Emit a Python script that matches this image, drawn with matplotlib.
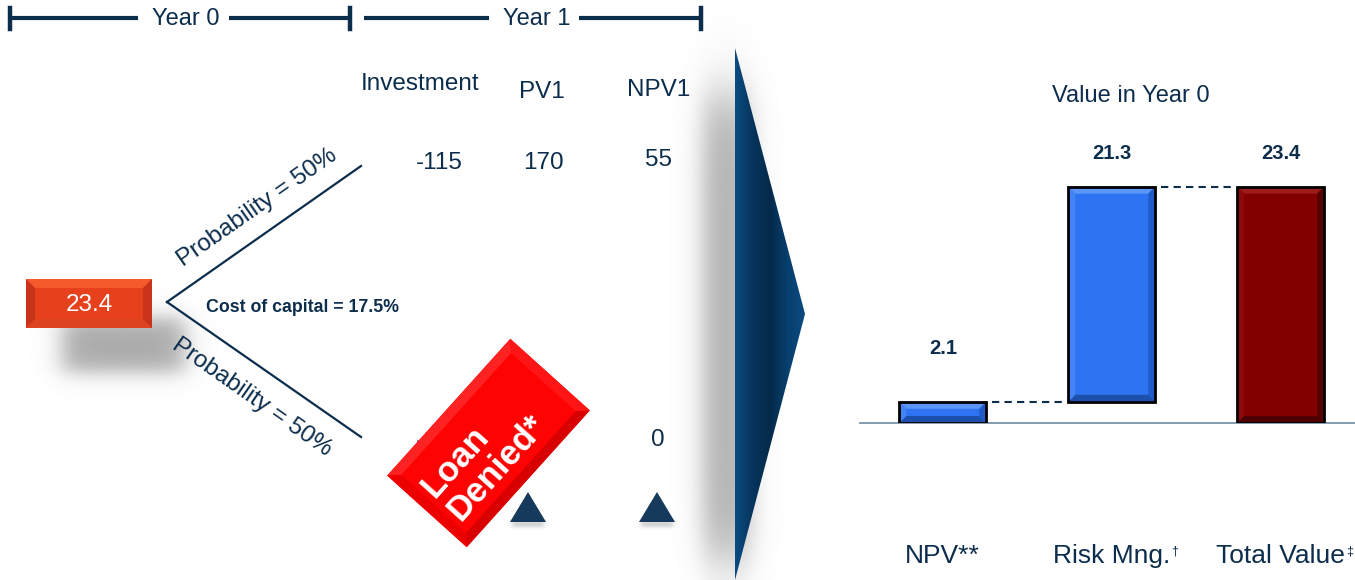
import numpy as np
import matplotlib
matplotlib.use("Agg")
import matplotlib.pyplot as plt
from matplotlib.patches import Polygon
from matplotlib.colors import LinearSegmentedColormap

plt.rcParams['font.family'] = ['Liberation Sans', 'DejaVu Sans']

# decision tree numbers
root_value = 23.4
cost_of_capital = 17.5
probability = 50
tree_cols = ['Investment', 'PV1', 'NPV1']
up_branch = [-115, 170, 55]
down_investment = -115
down_npv1 = 0
years = ['Year 0', 'Year 1']

# value bridge
categories = ['NPV**', 'Risk Mng.', 'Total Value']
footmarks = ['', '\u2020', '\u2021']
values = [2.1, 21.3, 23.4]
bottoms = [0, values[0], 0]
bar_colors = ['#2e74f2', '#2e74f2', '#820000']

NAVY = '#0c2d4c'

fig = plt.figure(figsize=(13.55, 5.8), dpi=100)
ov = fig.add_axes([0, 0, 1, 1])
ov.axis('off')


def soft_rect(x0, x1, y0, y1, sx, sy, amax, z, gray=0.45):
    px, py = 3 * sx, 3 * sy
    xs = np.linspace(x0 - px, x1 + px, 240)
    ys = np.linspace(y0 - py, y1 + py, 240)
    fx = 0.5 * (np.tanh((xs - x0) / sx) - np.tanh((xs - x1) / sx))
    fy = 0.5 * (np.tanh((ys - y0) / sy) - np.tanh((ys - y1) / sy))
    img = np.zeros((len(ys), len(xs), 4))
    img[..., :3] = gray
    img[..., 3] = amax * np.outer(fy, fx)
    ov.imshow(img, extent=(x0 - px, x1 + px, y1 + py, y0 - py), origin='upper',
              aspect='auto', interpolation='bilinear', zorder=z)


def bevel_box(cx, cy, w, h, ang, face, top, bottom, left, right, b, z):
    a = np.deg2rad(ang)
    u = np.array([np.cos(a), -np.sin(a)])
    v = np.array([np.sin(a), np.cos(a)])
    c = np.array([cx, cy])

    def corners(ww, hh):
        return [c - u * ww / 2 - v * hh / 2, c + u * ww / 2 - v * hh / 2,
                c + u * ww / 2 + v * hh / 2, c - u * ww / 2 + v * hh / 2]
    tl, tr, br, bl = corners(w, h)
    itl, itr, ibr, ibl = corners(w - 2 * b, h - 2 * b)
    ov.add_patch(Polygon([tl, tr, br, bl], color=face, lw=0, zorder=z))
    ov.add_patch(Polygon([tl, tr, itr, itl], color=top, lw=0, zorder=z + 0.1))
    ov.add_patch(Polygon([bl, br, ibr, ibl], color=bottom, lw=0, zorder=z + 0.1))
    ov.add_patch(Polygon([tl, bl, ibl, itl], color=left, lw=0, zorder=z + 0.1))
    ov.add_patch(Polygon([tr, br, ibr, itr], color=right, lw=0, zorder=z + 0.1))


# timeline
for x0, x1, gap0, gap1 in [(10, 350, 138, 229), (364, 701, 489, 579)]:
    ov.plot([x0, gap0], [18, 18], color=NAVY, lw=3, solid_capstyle='butt')
    ov.plot([gap1, x1], [18, 18], color=NAVY, lw=3, solid_capstyle='butt')
ov.plot([10, 10], [8, 29], color=NAVY, lw=3.2)
ov.plot([350, 350], [8, 29], color=NAVY, lw=3.2)
ov.plot([701, 701], [8, 29], color=NAVY, lw=3.2)
ov.text(186, 19, years[0], ha='center', va='center', fontsize=17, color=NAVY)
ov.text(537, 19, years[1], ha='center', va='center', fontsize=17, color=NAVY)

# column headers and upper branch values
for name, xc, yc in zip(tree_cols, [420, 542, 659], [84, 92, 90]):
    ov.text(xc, yc, name, ha='center', va='center', fontsize=17.5, color=NAVY)
for val, xc, yc in zip(up_branch, [439, 543, 658], [163, 163, 160]):
    ov.text(xc, yc, f'{val}', ha='center', va='center', fontsize=17.5, color=NAVY)
ov.text(439, 441, f'{down_investment}', ha='center', va='center', fontsize=17.5,
        color=NAVY, zorder=2)
ov.text(658, 440, f'{down_npv1}', ha='center', va='center', fontsize=17.5, color=NAVY)

# branches
ov.plot([167, 361], [302, 166], color=NAVY, lw=1.6)
ov.plot([167, 361], [302, 437], color=NAVY, lw=1.6)
ov.text(257, 208, f'Probability = {probability}%', rotation=35, rotation_mode='anchor',
        ha='center', va='center', fontsize=17.5, color=NAVY)
ov.text(252, 397, f'Probability = {probability}%', rotation=-35, rotation_mode='anchor',
        ha='center', va='center', fontsize=17.5, color=NAVY)
ov.text(303, 307, f'Cost of capital = {cost_of_capital}%', ha='center', va='center',
        fontsize=12.8, fontweight='bold', color=NAVY)

# root node
soft_rect(62, 185, 318, 372, 14, 12, 0.6, z=1)
bevel_box(89, 303.5, 126, 49, 0, '#e6401d', '#f45a2c', '#dc4420', '#c8341a',
          '#c8341a', 9, z=3)
ov.text(89, 305, f'{root_value}', ha='center', va='center', fontsize=17.5,
        color='white', zorder=4)

# loan denied stamp
soft_rect(440, 560, 470, 480, 6, 4, 0.0, z=1)
bevel_box(488.5, 443, 184, 107, 48, '#fd0303', '#ff2222', '#d80000', '#ec0000',
          '#ff1515', 10, z=5)
ov.text(484, 456, 'Loan\nDenied*', rotation=48, rotation_mode='anchor',
        ha='center', va='center', multialignment='left', linespacing=1.05,
        fontsize=25, fontweight='bold', color='white', zorder=6)

# small markers under the lower branch
for xc in [528, 657]:
    soft_rect(xc - 16, xc + 16, 521, 527, 3, 2, 0.35, z=1)
    ov.add_patch(Polygon([(xc - 18, 522), (xc, 492), (xc + 18, 522)],
                         color='#153a5c', lw=0, zorder=2))

# big arrow with shadow
soft_rect(703, 750, 95, 560, 14, 35, 0.6, z=1, gray=0.5)
arrow = Polygon([(735, 48), (805, 314), (735, 580)], facecolor='none', lw=0, zorder=3)
ov.add_patch(arrow)
arrow_cmap = LinearSegmentedColormap.from_list(
    'arrow', ['#0a4c82', '#06345c', '#042a4b', '#083f6d', '#0b4a80'])
grad = np.tile(np.linspace(0, 1, 200), (10, 1))
img = ov.imshow(grad, cmap=arrow_cmap, extent=(735, 805, 580, 48), origin='upper',
                aspect='auto', zorder=3)
img.set_clip_path(arrow)

ov.text(1131, 96, 'Value in Year 0', ha='center', va='center', fontsize=17, color=NAVY)

ov.set_xlim(0, 1355)
ov.set_ylim(580, 0)

# value bridge chart
ax = fig.add_axes([860 / 1355, (580 - 423) / 580, 495 / 1355, 303 / 580])
ax.patch.set_alpha(0)
for s in ax.spines.values():
    s.set_visible(False)
ax.set_xlim(-0.49, 2.44)
ax.set_ylim(0, 30)
ax.set_yticks([])
x = np.arange(len(categories))
width = 0.515
ax.axhline(0, color='#7a93aa', lw=1.3, clip_on=False, zorder=2)
ax.bar(x, values, bottom=bottoms, width=width, color=bar_colors, lw=0, zorder=3)

bx, by = 7 / 169, 7 / 10.09
shades = {'#2e74f2': ('#5b95f8', '#1d50ad', '#4384f5', '#1f5cc8'),
          '#820000': ('#9c1c1c', '#4e0000', '#8e0a0a', '#560000')}
for xi, v, b0, col in zip(x, values, bottoms, bar_colors):
    x0, x1, y0, y1 = xi - width / 2, xi + width / 2, b0, b0 + v
    t, bt, l, r = shades[col]
    ax.add_patch(Polygon([(x0, y1), (x1, y1), (x1 - bx, y1 - by), (x0 + bx, y1 - by)],
                         color=t, lw=0, zorder=3.2))
    ax.add_patch(Polygon([(x0, y0), (x1, y0), (x1 - bx, y0 + by), (x0 + bx, y0 + by)],
                         color=bt, lw=0, zorder=3.2))
    ax.add_patch(Polygon([(x0, y0), (x0, y1), (x0 + bx, y1 - by), (x0 + bx, y0 + by)],
                         color=l, lw=0, zorder=3.2))
    ax.add_patch(Polygon([(x1, y0), (x1, y1), (x1 - bx, y1 - by), (x1 - bx, y0 + by)],
                         color=r, lw=0, zorder=3.2))
ax.bar(x, values, bottom=bottoms, width=width, fill=False, edgecolor='black', lw=2,
       zorder=4)

label_gap = [5.3, 3.3, 3.3]
for xi, v, b0, g in zip(x, values, bottoms, label_gap):
    ax.text(xi, b0 + v + g, f'{v:.1f}', ha='center', va='center', fontsize=14.5,
            fontweight='bold', color=NAVY)

# dashed connectors between bars
run = np.cumsum(values[:2])
for i, level in enumerate(run):
    ax.plot([i + width / 2 + 0.035, i + 1 - width / 2 - 0.025], [level, level],
            color=NAVY, lw=1.5, ls=(0, (3.5, 2.5)), zorder=3)

# category labels with footnote marks just after them
ax.set_xticks(x, categories, fontsize=19, color=NAVY)
ax.tick_params(axis='x', length=0, pad=87)
fig.canvas.draw()
inv = ov.transData.inverted()
for lab, mark in zip(ax.get_xticklabels(), footmarks):
    if not mark:
        continue
    bb = lab.get_window_extent()
    mx, my = inv.transform((bb.x1, bb.y1))
    ov.text(mx + 1, my + 8, mark, ha='left', va='center', fontsize=9, color=NAVY)

fig.savefig('out.png', dpi=100)
